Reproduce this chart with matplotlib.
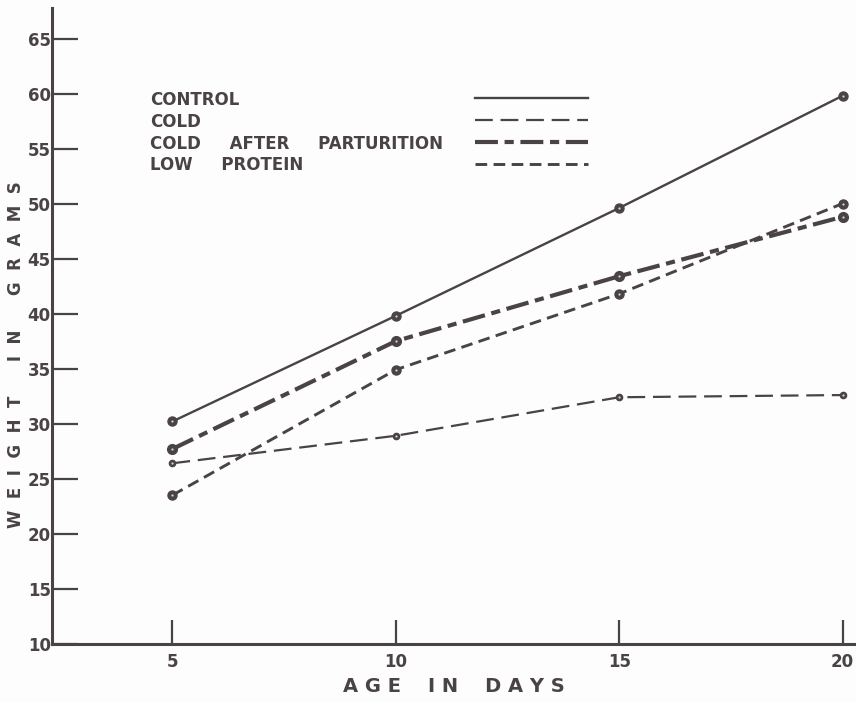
import matplotlib.pyplot as plt
import numpy as np

# age in days and mean weight in grams
days = [5, 10, 15, 20]
control = [30.2, 39.8, 49.6, 59.8]
cold = [26.4, 28.9, 32.4, 32.6]
cold_after_part = [27.7, 37.5, 43.4, 48.8]
low_protein = [23.5, 34.9, 41.8, 50.0]

y_ticks = [10, 15, 20, 25, 30, 35, 40, 45, 50, 55, 60, 65]
x_ticks = [5, 10, 15, 20]

ink = '#4a4345'

fig = plt.figure(figsize=(8.56, 7.02), dpi=100, facecolor='#fdfdfd')
ax = fig.add_axes([0.061, 0.083, 0.939, 0.906])
ax.set_facecolor('#fdfdfd')

series = [
    (control, 'CONTROL', dict(linestyle='-', linewidth=1.7), 6.5),
    (cold, 'COLD', dict(linestyle=(0, (8, 3.5)), linewidth=1.6), 4.5),
    (cold_after_part, 'COLD     AFTER     PARTURITION', dict(linestyle=(0, (5.5, 1.6, 2.2, 1.6)), linewidth=3.0), 7),
    (low_protein, 'LOW     PROTEIN', dict(linestyle=(0, (4, 2.2)), linewidth=2.1), 6.5),
]

for vals, name, style, ms in series:
    ax.plot(days, vals, color=ink, marker='o', markersize=ms,
            markerfacecolor=ink, markeredgecolor=ink, dash_capstyle='butt', **style)
    ax.plot(days, vals, linestyle='none', marker='o', markersize=1.6,
            markerfacecolor='#d8d4d4', markeredgecolor='none')

# hand-lettered key: labels on the left, line samples on the right
key_y = [0.855, 0.821, 0.786, 0.752]
for (vals, name, style, ms), ky in zip(series, key_y):
    ax.text(0.122, ky, name, transform=ax.transAxes, fontsize=12,
            fontweight='bold', color=ink, va='center', ha='left')
    ax.plot([0.526, 0.666], [ky + 0.003, ky + 0.003], transform=ax.transAxes,
            color=ink, dash_capstyle='butt', **style)

ax.set_xlim(2.31, 20.3)
ax.set_ylim(10, 67.8)
ax.set_xticks(x_ticks)
ax.set_yticks(y_ticks)
ax.set_xticklabels([str(t) for t in x_ticks], fontsize=12, fontweight='bold', color=ink)
ax.set_yticklabels([str(t) for t in y_ticks], fontsize=12, fontweight='bold', color=ink)

for side in ['top', 'right']:
    ax.spines[side].set_visible(False)
for side in ['left', 'bottom']:
    ax.spines[side].set_linewidth(2.2)
    ax.spines[side].set_color(ink)

ax.tick_params(axis='y', direction='in', length=19, width=1.6, color=ink, pad=1)
ax.tick_params(axis='x', direction='in', length=17, width=1.6, color=ink, pad=7)

ax.set_xlabel('A G E    I N    D A Y S', fontsize=14, fontweight='bold', color=ink, labelpad=4)
ax.set_ylabel('W  E  I  G  H  T      I  N      G  R  A  M  S', fontsize=12, fontweight='bold',
              color=ink)
ax.yaxis.set_label_coords(-0.034, 0.455)

fig.savefig('out.png', dpi=100, facecolor=fig.get_facecolor())
